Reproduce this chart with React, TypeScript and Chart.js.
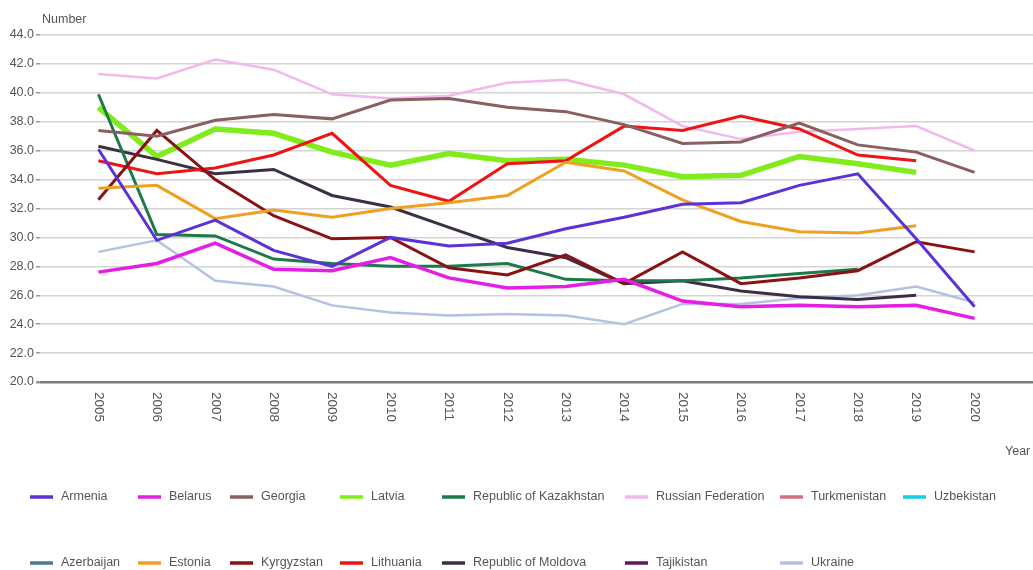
import React, { useEffect, useRef } from 'react';
import { Chart, registerables } from 'chart.js';

Chart.register(...registerables);

// ---- data ----
const years = [2005, 2006, 2007, 2008, 2009, 2010, 2011, 2012, 2013, 2014, 2015, 2016, 2017, 2018, 2019, 2020];
const yTickLabels = ['20.0', '22.0', '24.0', '26.0', '28.0', '30.0', '32.0', '34.0', '36.0', '38.0', '40.0', '42.0', '44.0'];

const armenia = [36.1, 29.8, 31.2, 29.1, 28.0, 30.0, 29.4, 29.6, 30.6, 31.4, 32.3, 32.4, 33.6, 34.4, 29.9, 25.2];
const azerbaijan: (number | null)[] = [null, null, null, null, null, null, null, null, null, null, null, null, null, null, null, null];
const belarus = [27.6, 28.2, 29.6, 27.8, 27.7, 28.6, 27.2, 26.5, 26.6, 27.1, 25.6, 25.2, 25.3, 25.2, 25.3, 24.4];
const estonia = [33.4, 33.6, 31.3, 31.9, 31.4, 32.0, 32.4, 32.9, 35.2, 34.6, 32.6, 31.1, 30.4, 30.3, 30.8, null];
const georgia = [37.4, 37.0, 38.1, 38.5, 38.2, 39.5, 39.6, 39.0, 38.7, 37.8, 36.5, 36.6, 37.9, 36.4, 35.9, 34.5];
const kyrgyzstan = [32.6, 37.4, 34.0, 31.5, 29.9, 30.0, 27.9, 27.4, 28.8, 26.8, 29.0, 26.8, 27.2, 27.7, 29.7, 29.0];
const latvia = [39.0, 35.6, 37.5, 37.2, 35.9, 35.0, 35.8, 35.3, 35.4, 35.0, 34.2, 34.3, 35.6, 35.1, 34.5, null];
const lithuania = [35.3, 34.4, 34.8, 35.7, 37.2, 33.6, 32.5, 35.1, 35.3, 37.7, 37.4, 38.4, 37.5, 35.7, 35.3, null];
const kazakhstan = [39.9, 30.2, 30.1, 28.5, 28.2, 28.0, 28.0, 28.2, 27.1, 27.0, 27.0, 27.2, 27.5, 27.8, null, null];
const moldova = [36.3, 35.4, 34.4, 34.7, 32.9, 32.1, 30.7, 29.3, 28.6, 26.8, 27.0, 26.3, 25.9, 25.7, 26.0, null];
const russia = [41.3, 41.0, 42.3, 41.6, 39.9, 39.6, 39.8, 40.7, 40.9, 39.9, 37.7, 36.8, 37.3, 37.5, 37.7, 36.0];
const tajikistan: (number | null)[] = [null, null, null, null, null, null, null, null, null, null, null, null, null, null, null, null];
const turkmenistan: (number | null)[] = [null, null, null, null, null, null, null, null, null, null, null, null, null, null, null, null];
const ukraine = [29.0, 29.8, 27.0, 26.6, 25.3, 24.8, 24.6, 24.7, 24.6, 24.0, 25.4, 25.4, 25.8, 26.0, 26.6, 25.5];
const uzbekistan: (number | null)[] = [null, null, null, null, null, null, null, null, null, null, null, null, null, null, null, null];

const seriesNames = [
  'Armenia', 'Azerbaijan', 'Belarus', 'Estonia', 'Georgia', 'Kyrgyzstan', 'Latvia', 'Lithuania',
  'Republic of Kazakhstan', 'Republic of Moldova', 'Russian Federation', 'Tajikistan', 'Turkmenistan', 'Ukraine', 'Uzbekistan',
];
const seriesValues = [
  armenia, azerbaijan, belarus, estonia, georgia, kyrgyzstan, latvia, lithuania,
  kazakhstan, moldova, russia, tajikistan, turkmenistan, ukraine, uzbekistan,
];
const seriesColors = [
  '#5a32d6', '#4d7b91', '#e41ee4', '#f0a020', '#8a5f5f', '#8a1212', '#80ec1c', '#ee1414',
  '#1c7a4a', '#3c2f44', '#f2b8ee', '#64185e', '#d2717f', '#b4c2e2', '#12cfe6',
];
const seriesWidths = [3, 3, 3.5, 3, 3, 3, 5.5, 3, 3, 3, 2.5, 3, 3, 2.5, 3];

const FONT = '"Liberation Sans", Arial, sans-serif';

const textPlugin = {
  id: 'customTexts',
  afterDraw(chart: any) {
    const ctx = chart.ctx as CanvasRenderingContext2D;
    const xs = chart.scales.x;
    const area = chart.chartArea;
    ctx.save();
    // axis titles
    ctx.fillStyle = '#555';
    ctx.font = `12.5px ${FONT}`;
    ctx.textAlign = 'left';
    ctx.textBaseline = 'middle';
    ctx.fillText('Number', area.left + 2, 20);
    ctx.fillText('Year', 1005, 452);
    // rotated year labels
    ctx.font = `13.5px ${FONT}`;
    years.forEach((yr) => {
      const px = xs.getPixelForValue(yr);
      ctx.save();
      ctx.translate(px, area.bottom + 10);
      ctx.rotate(Math.PI / 2);
      ctx.textAlign = 'left';
      ctx.textBaseline = 'middle';
      ctx.fillText(String(yr), 0, 0);
      ctx.restore();
    });
    // legend grid (column-major)
    const cols = [30, 138, 230, 340, 442, 625, 780, 903];
    const rows = [497, 563];
    ctx.font = `12.5px ${FONT}`;
    chart.data.datasets.forEach((ds: any, i: number) => {
      const cx = cols[Math.floor(i / 2)];
      const cy = rows[i % 2];
      ctx.strokeStyle = ds.borderColor;
      ctx.lineWidth = 3.5;
      ctx.lineCap = 'butt';
      ctx.beginPath();
      ctx.moveTo(cx, cy);
      ctx.lineTo(cx + 23, cy);
      ctx.stroke();
      ctx.fillStyle = '#555';
      ctx.textAlign = 'left';
      ctx.textBaseline = 'middle';
      ctx.fillText(ds.label, cx + 31, cy);
    });
    ctx.restore();
  },
};

export default function App() {
  const ref = useRef<HTMLCanvasElement | null>(null);
  useEffect(() => {
    document.body.style.margin = '0';
    if (!ref.current) return;
    const datasets = seriesNames.map((name, i) => ({
      label: name,
      data: years.map((yr, j) => ({ x: yr, y: seriesValues[i][j] })),
      borderColor: seriesColors[i],
      backgroundColor: seriesColors[i],
      borderWidth: seriesWidths[i],
      pointRadius: 0,
      tension: 0,
      spanGaps: false,
      order: i === 6 ? 20 : i,
    }));
    const chart = new Chart(ref.current, {
      type: 'line',
      data: { datasets },
      plugins: [textPlugin],
      options: {
        animation: false,
        responsive: false,
        layout: { padding: { top: 35, left: 0, right: 0, bottom: 128 } },
        plugins: { legend: { display: false }, tooltip: { enabled: false } },
        scales: {
          x: {
            type: 'linear',
            min: 2004,
            max: 2021,
            ticks: { display: false, stepSize: 1 },
            grid: { display: false },
            border: { display: false },
            afterFit: (s: any) => { s.height = 60; },
          },
          y: {
            min: 20,
            max: 44,
            ticks: {
              stepSize: 2,
              color: '#555',
              font: { family: FONT, size: 12.5 },
              padding: 2,
              callback: (v: any) => yTickLabels[Math.round((Number(v) - 20) / 2)] ?? '',
            },
            grid: {
              color: (c: any) => (c.tick && c.tick.value === 20 ? '#7a7a7a' : '#d4d4d4'),
              lineWidth: (c: any) => (c.tick && c.tick.value === 20 ? 2.5 : 1.5),
              tickLength: 4,
              tickColor: '#999',
            },
            border: { display: false },
            afterFit: (s: any) => { s.width = 40; },
          },
        },
      },
    });
    return () => chart.destroy();
  }, []);
  return <canvas ref={ref} width={1033} height={570} style={{ display: 'block' }} />;
}
